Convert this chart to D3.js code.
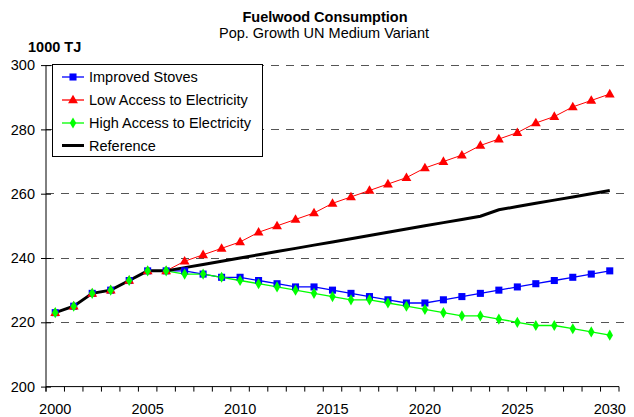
<!DOCTYPE html>
<html>
<head>
<meta charset="utf-8">
<script src="https://cdn.jsdelivr.net/npm/d3@7"></script>
<style>
  body { margin: 0; background: #fff; }
  svg { display: block; font-family: "Liberation Sans", Arial, sans-serif; }
</style>
</head>
<body>
<svg id="chart" width="634" height="417"></svg>
<script>
// years on the x axis
const years = d3.range(2000, 2031)
const xTickLabels = [2000, 2005, 2010, 2015, 2020, 2025, 2030]
const yTicks = [200, 220, 240, 260, 280, 300]

// series values (1000 TJ)
const improvedStoves = [223, 225, 229, 230, 233, 236, 236, 236, 235, 234, 234, 233, 232, 231, 231, 230,
  229, 228, 227, 226, 226, 227, 228, 229, 230, 231, 232, 233, 234, 235, 236]
const lowAccess = [223, 225, 229, 230, 233, 236, 236, 239, 241, 243, 245, 248, 250, 252, 254, 257,
  259, 261, 263, 265, 268, 270, 272, 275, 277, 279, 282, 284, 287, 289, 291]
const highAccess = [223, 225, 229, 230, 233, 236, 236, 235, 235, 234, 233, 232, 231, 230, 229, 228,
  227, 227, 226, 225, 224, 223, 222, 222, 221, 220, 219, 219, 218, 217, 216]
const reference = [223, 225, 229, 230, 233, 236, 236, 237, 238, 239, 240, 241, 242, 243, 244, 245,
  246, 247, 248, 249, 250, 251, 252, 253, 255, 256, 257, 258, 259, 260, 261]

const seriesNames = ["Improved Stoves", "Low Access to Electricity", "High Access to Electricity", "Reference"]

const blue = "#0000ff", red = "#ff0000", green = "#00ff00", black = "#000"

const svg = d3.select("#chart")
const plotLeft = 46, plotRight = 619, plotTop = 65.1, plotBottom = 386.6

const xBand = d3.scaleBand().domain(years).range([plotLeft, plotRight])
const xScale = d3.scalePoint().domain(years).range([plotLeft, plotRight]).padding(0.5)
const yScale = d3.scaleLinear().domain([200, 300]).range([plotBottom, plotTop])

// dashed grid lines
svg.append("g").selectAll("line.grid")
  .data(yTicks.filter(d => d > 200))
  .enter()
  .append("line")
  .attr("class", "grid")
  .attr("x1", plotLeft).attr("x2", plotRight + 6)
  .attr("y1", d => yScale(d)).attr("y2", d => yScale(d))
  .attr("stroke", "#555")
  .attr("stroke-dasharray", "8,7")
  .attr("shape-rendering", "crispEdges")

// y axis
const yAxis = d3.axisLeft(yScale).tickValues(yTicks).tickSize(5).tickPadding(6)
const yG = svg.append("g").attr("transform", `translate(${plotLeft},0)`).call(yAxis)
yG.select(".domain").remove()
yG.append("line").attr("x1", 0).attr("x2", 0).attr("y1", plotTop).attr("y2", plotBottom + 5).attr("stroke", "#000")
yG.selectAll(".tick line").attr("x1", 5).attr("x2", -5)
yG.selectAll("text").style("font-size", "14.5px").attr("fill", "#000")

// x axis: ticks between categories, labels every 5 years
const xG = svg.append("g").attr("transform", `translate(0,${plotBottom})`)
xG.append("line").attr("x1", plotLeft).attr("x2", plotRight).attr("stroke", "#000")
xG.selectAll("line.tk")
  .data(years.concat([2031]))
  .enter()
  .append("line")
  .attr("class", "tk")
  .attr("x1", d => d === 2031 ? plotRight : xBand(d))
  .attr("x2", d => d === 2031 ? plotRight : xBand(d))
  .attr("y1", 0).attr("y2", 5)
  .attr("stroke", "#000")
xG.selectAll("text")
  .data(xTickLabels)
  .enter()
  .append("text")
  .attr("x", d => xScale(d))
  .attr("y", 27)
  .attr("text-anchor", "middle")
  .style("font-size", "14.5px")
  .text(d => d)

// lines
const line = d3.line().x((d, i) => xScale(years[i])).y(d => yScale(d))
const lineSeries = [
  { values: improvedStoves, color: blue, width: 1.3 },
  { values: lowAccess, color: red, width: 1 },
  { values: highAccess, color: green, width: 1.3 },
  { values: reference, color: black, width: 3 }
]
lineSeries.forEach(s => {
  svg.append("path")
    .attr("d", line(s.values))
    .attr("fill", "none")
    .attr("stroke", s.color)
    .attr("stroke-width", s.width)
})

// markers
const sq = d3.symbol().type(d3.symbolSquare).size(50)
const tri = d3.symbol().type(d3.symbolTriangle).size(42)
const dia = d3.symbol().type(d3.symbolDiamond).size(36)

function drawMarkers(values, gen, color, cls, dy) {
  svg.selectAll("path." + cls)
    .data(values)
    .enter()
    .append("path")
    .attr("class", cls)
    .attr("d", gen)
    .attr("transform", (d, i) => `translate(${xScale(years[i])},${yScale(d) + dy})`)
    .attr("fill", color)
}
drawMarkers(improvedStoves, sq, blue, "stoves", 0)
drawMarkers(lowAccess, tri, red, "low", 0.5)
drawMarkers(highAccess, dia, green, "high", 0)

// title
svg.append("text").attr("x", 325).attr("y", 22).attr("text-anchor", "middle")
  .style("font-size", "14.5px").style("font-weight", "bold").text("Fuelwood Consumption")
svg.append("text").attr("x", 324).attr("y", 38).attr("text-anchor", "middle")
  .style("font-size", "14.5px").text("Pop. Growth UN Medium Variant")
svg.append("text").attr("x", 28).attr("y", 52)
  .style("font-size", "14.5px").style("font-weight", "bold").text("1000 TJ")

// legend
const legend = svg.append("g")
legend.append("rect")
  .attr("x", 52.5).attr("y", 64.5).attr("width", 210).attr("height", 92)
  .attr("fill", "#fff").attr("stroke", "#000")
const legendY = [77, 100, 123, 145.5]
const legendColors = [blue, red, green, black]
const legendGens = [sq, tri, dia, null]
seriesNames.forEach((name, i) => {
  legend.append("line")
    .attr("x1", 62).attr("x2", 84)
    .attr("y1", legendY[i]).attr("y2", legendY[i])
    .attr("stroke", legendColors[i])
    .attr("stroke-width", i === 3 ? 3 : 1.3)
  if (legendGens[i]) {
    legend.append("path")
      .attr("d", legendGens[i]())
      .attr("transform", `translate(73,${legendY[i] + (i === 1 ? 0.5 : 0)})`)
      .attr("fill", legendColors[i])
  }
  legend.append("text")
    .attr("x", 89).attr("y", legendY[i] + 5)
    .style("font-size", "14.5px")
    .text(name)
})
</script>
</body>
</html>
